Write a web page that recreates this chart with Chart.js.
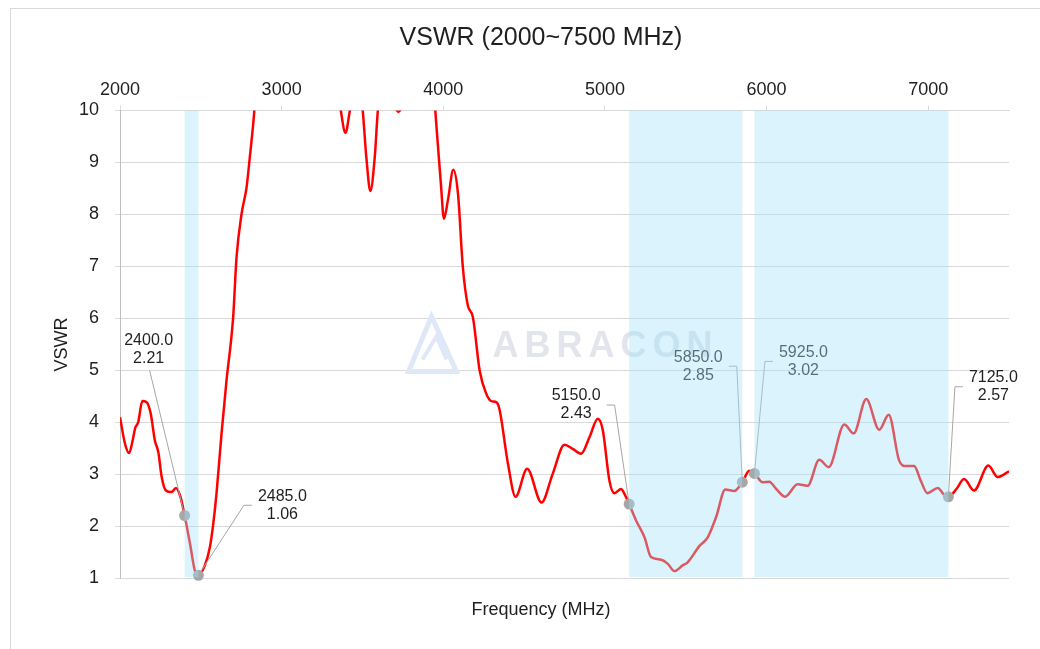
<!DOCTYPE html>
<html>
<head>
<meta charset="utf-8">
<title>VSWR (2000~7500 MHz)</title>
<script src="https://cdn.jsdelivr.net/npm/chart.js@4.4.1/dist/chart.umd.min.js"></script>
<style>
  html, body { margin: 0; padding: 0; overflow: hidden; background: #fff; }
  #frame {
    position: absolute; left: 10px; top: 8px;
    width: 1060px; height: 660px;
    border: 1px solid #d9d9d9;
  }
</style>
</head>
<body>
<div id="frame"><canvas id="vswrChart"></canvas></div>
<script>
const freqMHz = [
  2000, 2031, 2056, 2078, 2093, 2113, 2138, 2165, 2190, 2216, 2237, 2258, 2284, 2319, 2346, 2375,
  2400, 2433, 2463, 2485, 2525, 2556, 2577, 2597, 2628, 2659, 2700, 2721, 2752, 2783, 2803, 2824,
  2845, 2950, 3100, 3250, 3340, 3366, 3395, 3422, 3460, 3500, 3524, 3549, 3576, 3598, 3650, 3700,
  3722, 3745, 3820, 3900, 3940, 3965, 3985, 4004, 4030, 4062, 4091, 4121, 4152, 4183, 4225, 4266,
  4297, 4328, 4348, 4400, 4447, 4519, 4608, 4677, 4750, 4801, 4853, 4905, 4956, 4987, 5028, 5059,
  5100, 5125, 5150, 5192, 5245, 5285, 5348, 5389, 5430, 5481, 5512, 5584, 5636, 5688, 5745, 5800,
  5850, 5893, 5925, 5976, 6017, 6060, 6115, 6192, 6254, 6326, 6385, 6481, 6539, 6617, 6697, 6756,
  6820, 6862, 6913, 6954, 6995, 7060, 7095, 7125, 7175, 7222, 7284, 7372, 7430, 7500
];
const vswr = [
  4.10, 3.59, 3.41, 3.65, 3.88, 4.01, 4.41, 4.39, 4.17, 3.65, 3.43, 2.95, 2.69, 2.66, 2.74, 2.56,
  2.21, 1.67, 1.15, 1.06, 1.25, 1.60, 2.05, 2.63, 3.78, 4.81, 6.02, 7.18, 8.01, 8.52, 9.10, 9.74,
  10.5, 12.5, 13.5, 12.5, 10.6, 10.0, 9.57, 10.0, 10.7, 10.05, 9.10, 8.45, 9.10, 10.1, 10.6, 10.1,
  9.97, 10.1, 11.2, 11.4, 10.4, 9.4, 8.6, 7.92, 8.30, 8.86, 8.40, 6.99, 6.25, 6.03, 5.00, 4.55,
  4.41, 4.39, 4.25, 3.21, 2.57, 3.11, 2.46, 3.01, 3.57, 3.49, 3.40, 3.72, 4.07, 3.85, 2.88, 2.64,
  2.72, 2.60, 2.43, 2.12, 1.79, 1.41, 1.36, 1.28, 1.14, 1.25, 1.31, 1.62, 1.79, 2.18, 2.71, 2.68,
  2.85, 3.07, 3.02, 2.85, 2.86, 2.72, 2.57, 2.81, 2.78, 3.28, 3.14, 3.96, 3.79, 4.45, 3.86, 4.15,
  3.27, 3.16, 3.16, 2.88, 2.64, 2.74, 2.62, 2.57, 2.72, 2.91, 2.69, 3.17, 2.95, 3.06
];

// band edge markers
const markerFreqs = [2400, 2485, 5150, 5850, 5925, 7125];
const markerVswr = [2.21, 1.06, 2.43, 2.85, 3.02, 2.57];

// shaded bands
const bandStarts = [2400, 5150, 5925];
const bandEnds = [2485, 5850, 7125];

const xTicks = [2000, 3000, 4000, 5000, 6000, 7000];
const yTicks = [1, 2, 3, 4, 5, 6, 7, 8, 9, 10];

// label placement relative to its marker (px) and which side the leader attaches to
const calloutPos = [
  { dx: -36, dy: -166, side: 'bottom' },
  { dx: 84, dy: -70, side: 'left' },
  { dx: -53, dy: -99, side: 'right' },
  { dx: -44, dy: -116, side: 'right' },
  { dx: 49, dy: -112, side: 'left' },
  { dx: 45, dy: -110, side: 'left' }
];

const FONT = '"Liberation Sans", Arial, sans-serif';
Chart.defaults.font.family = FONT;
Chart.defaults.color = '#1f1f1f';

const watermark = {
  id: 'watermark',
  beforeDatasetsDraw(chart) {
    const { ctx, chartArea } = chart;
    const cx = (chartArea.left + chartArea.right) / 2;
    const cy = (chartArea.top + chartArea.bottom) / 2;
    ctx.save();
    // logo
    ctx.strokeStyle = '#dfe8f7';
    ctx.lineWidth = 5;
    ctx.lineJoin = 'miter';
    ctx.beginPath();
    ctx.moveTo(cx - 156, cy + 27);
    ctx.lineTo(cx - 133, cy - 28);
    ctx.lineTo(cx - 108, cy + 27);
    ctx.closePath();
    ctx.stroke();
    ctx.lineWidth = 4;
    ctx.beginPath();
    ctx.moveTo(cx - 142, cy + 15);
    ctx.lineTo(cx - 128, cy - 8);
    ctx.lineTo(cx - 118, cy + 15);
    ctx.stroke();
    // name
    ctx.fillStyle = '#e2e5ec';
    ctx.font = 'bold 36px ' + FONT;
    ctx.textAlign = 'left';
    ctx.textBaseline = 'alphabetic';
    ctx.letterSpacing = '6px';
    ctx.fillText('ABRACON', cx - 72, cy + 13);
    ctx.restore();
  }
};

const callouts = {
  id: 'callouts',
  afterDatasetsDraw(chart) {
    const { ctx, scales: { x, y } } = chart;
    ctx.save();
    ctx.font = '16px ' + FONT;
    ctx.textAlign = 'center';
    ctx.textBaseline = 'middle';
    markerFreqs.forEach((f, i) => {
      const px = x.getPixelForValue(f);
      const py = y.getPixelForValue(markerVswr[i]);
      const o = calloutPos[i];
      const cx = px + o.dx, cy = py + o.dy;
      const l1 = f.toFixed(1), l2 = markerVswr[i].toFixed(2);
      const half = ctx.measureText(l1).width / 2;

      ctx.strokeStyle = '#a6a6a6';
      ctx.lineWidth = 1;
      ctx.beginPath();
      ctx.moveTo(px, py);
      if (o.side === 'bottom') {
        ctx.lineTo(cx + 1, cy + 21);
      } else {
        const s = o.side === 'left' ? -1 : 1;
        const edge = cx + s * half;
        ctx.lineTo(edge + s * 14, cy);
        ctx.lineTo(edge + s * 6, cy);
      }
      ctx.stroke();

      ctx.fillStyle = '#1f1f1f';
      ctx.fillText(l1, cx, cy - 9);
      ctx.fillText(l2, cx, cy + 9);
    });

    // bands sit on top of everything, like the original overlay
    ctx.fillStyle = 'rgba(162, 225, 247, 0.4)';
    const top = y.getPixelForValue(10);
    const bot = y.getPixelForValue(1.025);
    bandStarts.forEach((s, i) => {
      const x0 = x.getPixelForValue(s);
      const x1 = x.getPixelForValue(bandEnds[i]);
      ctx.fillRect(x0, top, x1 - x0, bot - top);
    });
    ctx.restore();
  }
};

const ctx = document.getElementById('vswrChart').getContext('2d');
new Chart(ctx, {
  type: 'line',
  data: {
    datasets: [
      {
        label: 'VSWR',
        data: freqMHz.map((f, i) => ({ x: f, y: vswr[i] })),
        borderColor: '#ff0000',
        borderWidth: 2.5,
        pointRadius: 0,
        cubicInterpolationMode: 'monotone',
        clip: 0,
        order: 2
      },
      {
        label: 'Markers',
        type: 'scatter',
        data: markerFreqs.map((f, i) => ({ x: f, y: markerVswr[i] })),
        backgroundColor: '#a6a6a6',
        borderWidth: 0,
        pointRadius: 5.5,
        clip: false,
        order: 1
      }
    ]
  },
  options: {
    responsive: true,
    maintainAspectRatio: false,
    animation: false,
    layout: { padding: { top: 0, left: 0, right: 0, bottom: 48 } },
    scales: {
      x: {
        type: 'linear',
        position: 'top',
        min: 2000,
        max: 7500,
        afterBuildTicks: (s) => { s.ticks = xTicks.map(v => ({ value: v })); },
        afterFit: (s) => { s.height = 49.5; },
        ticks: {
          font: { size: 18 }, padding: 5, maxRotation: 0, autoSkip: false,
          callback: (v) => String(v)
        },
        grid: { drawOnChartArea: false, drawTicks: true, tickLength: 5, color: '#d9d9d9' },
        border: { color: '#d9d9d9' }
      },
      y: {
        min: 1,
        max: 10,
        afterBuildTicks: (s) => { s.ticks = yTicks.map(v => ({ value: v })); },
        afterFit: (s) => { s.width = 109; },
        ticks: { font: { size: 18 }, padding: 16 },
        grid: { color: '#d9d9d9', tickLength: 5 },
        border: { color: '#bfbfbf' },
        title: { display: true, text: 'VSWR', font: { size: 18 }, padding: { top: 40, bottom: 0 } }
      },
      yr: {
        position: 'right',
        min: 1,
        max: 10,
        afterFit: (s) => { s.width = 62; },
        ticks: { display: false },
        grid: { display: false },
        border: { display: false }
      }
    },
    plugins: {
      legend: { display: false },
      tooltip: { enabled: false },
      title: {
        display: true,
        text: 'VSWR (2000~7500 MHz)',
        font: { size: 25, weight: 'normal' },
        padding: { top: 14, bottom: 8 }
      },
      subtitle: {
        display: true,
        position: 'bottom',
        text: 'Frequency (MHz)',
        font: { size: 18 },
        padding: { top: 21, bottom: 0 }
      }
    }
  },
  plugins: [watermark, callouts]
});
</script>
</body>
</html>
